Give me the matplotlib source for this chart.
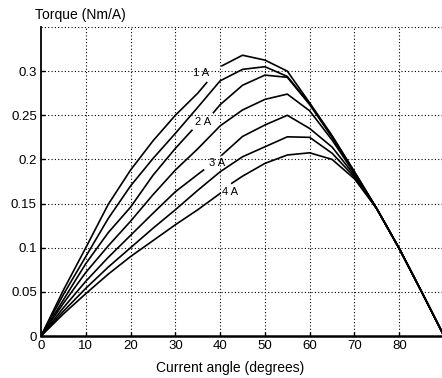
import numpy as np
import matplotlib
matplotlib.use("Agg")
import matplotlib.pyplot as plt

nan = np.nan

# torque per amp vs current angle, one curve per current level (gaps leave room for labels)
a1 = [0, 5, 10, 15, 20, 25, 30, 35, 37, nan, 40.4, 45, 50, 55, 60, 65, 70, 75, 80, 85, 90]
t1 = [0, 0.052, 0.100, 0.149, 0.188, 0.221, 0.250, 0.275, 0.287, nan, 0.306, 0.318, 0.3125, 0.300, 0.264, 0.227, 0.186, 0.144, 0.099, 0.050, 0]

a2 = [0, 5, 10, 15, 20, 25, 30, 35, 40, 45, 50, 55, 60, 65, 70, 75, 80, 85, 90]
t2 = [0, 0.047, 0.090, 0.133, 0.170, 0.201, 0.2295, 0.259, 0.289, 0.302, 0.305, 0.294, 0.263, 0.226, 0.186, 0.144, 0.099, 0.050, 0]

a3 = [0, 5, 10, 15, 20, 25, 30, 33.7, nan, 38.5, 40, 45, 50, 55, 60, 65, 70, 75, 80, 85, 90]
t3 = [0, 0.041, 0.082, 0.117, 0.146, 0.182, 0.2125, 0.233, nan, 0.253, 0.262, 0.284, 0.2955, 0.293, 0.262, 0.225, 0.185, 0.144, 0.099, 0.050, 0]

a4 = [0, 5, 10, 15, 20, 25, 30, 35, 40, 45, 50, 55, 60, 65, 70, 75, 80, 85, 90]
t4 = [0, 0.037, 0.072, 0.102, 0.130, 0.160, 0.188, 0.212, 0.238, 0.256, 0.268, 0.274, 0.255, 0.222, 0.184, 0.144, 0.099, 0.050, 0]

a5 = [0, 5, 10, 15, 20, 25, 30, 35, 36.3, nan, 40.4, 45, 50, 55, 60, 65, 70, 75, 80, 85, 90]
t5 = [0, 0.032, 0.062, 0.089, 0.114, 0.139, 0.1634, 0.183, 0.188, nan, 0.205, 0.226, 0.239, 0.250, 0.235, 0.214, 0.182, 0.144, 0.099, 0.050, 0]

a6 = [0, 5, 10, 15, 20, 25, 30, 35, 40, 45, 50, 55, 60, 65, 70, 75, 80, 85, 90]
t6 = [0, 0.028, 0.054, 0.078, 0.100, 0.122, 0.143, 0.165, 0.186, 0.203, 0.2143, 0.2256, 0.225, 0.207, 0.180, 0.144, 0.099, 0.050, 0]

a7 = [0, 5, 10, 15, 20, 25, 30, 35, 40, nan, 42.6, 45, 50, 55, 60, 65, 70, 75, 80, 85, 90]
t7 = [0, 0.025, 0.048, 0.070, 0.090, 0.108, 0.126, 0.143, 0.1615, nan, 0.173, 0.181, 0.1955, 0.205, 0.2075, 0.200, 0.178, 0.144, 0.099, 0.050, 0]

curvas = [(a1, t1), (a2, t2), (a3, t3), (a4, t4), (a5, t5), (a6, t6), (a7, t7)]

etiquetas = ["1 A", "2 A", "3 A", "4 A"]
etiq_x = [35.7, 36.1, 39.3, 42.2]
etiq_y = [0.2974, 0.2426, 0.1955, 0.1634]

xticks = [0, 10, 20, 30, 40, 50, 60, 70, 80]
yticks = [0, 0.05, 0.1, 0.15, 0.2, 0.25, 0.3]
ytick_labels = ["0", "0.05", "0.1", "0.15", "0.2", "0.25", "0.3"]

plt.rcParams['font.family'] = ['Liberation Sans', 'DejaVu Sans']

fig = plt.figure(figsize=(4.42, 3.78), dpi=100)
ax = fig.add_axes([0.0928, 0.1111, 0.9118, 0.8175])

for ang, tor in curvas:
    ax.plot(ang, tor, color='black', lw=1.2, zorder=3)

for txt, x, y in zip(etiquetas, etiq_x, etiq_y):
    ax.text(x, y, txt, fontsize=8, ha='center', va='center', zorder=4)

ax.set_xlim(0, 90)
ax.set_ylim(0, 0.35)
ax.set_xticks(xticks)
ax.set_yticks(yticks)
ax.set_yticklabels(ytick_labels)
ax.tick_params(direction='in', length=3, width=1, labelsize=9.5, pad=3)

# dotted grid, including the top line at 0.35
for x in xticks[1:]:
    ax.axvline(x, color='black', ls=(0, (1, 2)), lw=0.8, zorder=1)
for y in yticks[1:] + [0.35]:
    ax.axhline(y, color='black', ls=(0, (1, 2)), lw=0.8, zorder=1)

ax.spines['top'].set_visible(False)
ax.spines['right'].set_visible(False)
ax.spines['left'].set_linewidth(1.3)
ax.spines['bottom'].set_linewidth(1.8)

fig.text(35 / 442, 1 - 15 / 378, "Torque (Nm/A)", fontsize=10, ha='left', va='center')
fig.text(230 / 442, 1 - 368 / 378, "Current angle (degrees)", fontsize=10, ha='center', va='center')

fig.savefig("out.png", dpi=100)
